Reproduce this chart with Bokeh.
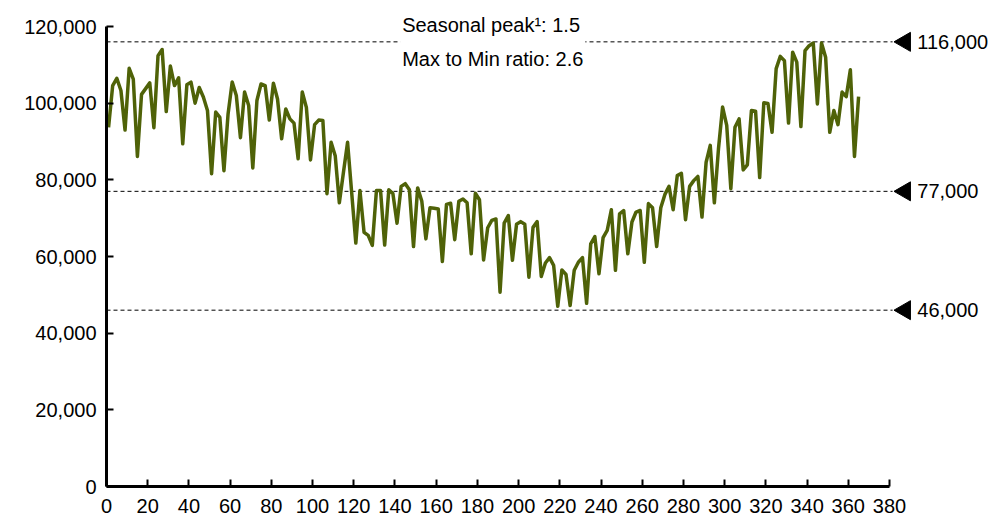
import math
from bokeh.plotting import figure
from bokeh.models import Range1d, SingleIntervalTicker, NumeralTickFormatter, Label, ColumnDataSource
from bokeh.embed import file_html
from bokeh.resources import INLINE

# ---- data ----
days = list(range(1, 366, 2))
traffic = [
    93700, 104600, 106500, 103300, 93000, 109100, 106300, 86100, 102300, 103800,
    105300, 93600, 112400, 114000, 97800, 109700, 104600, 106600, 89400, 104800,
    105500, 100000, 104100, 101600, 98100, 81600, 97700, 96300, 82400, 97200,
    105500, 102000, 91000, 102900, 99400, 83100, 100700, 105000, 104600, 95600,
    105200, 101100, 90700, 98500, 95900, 94800, 85500, 102900, 98900, 85200,
    94400, 95600, 95500, 76400, 89800, 86300, 74000, 82000, 89800, 76600,
    63500, 77200, 66300, 65500, 62900, 77200, 77200, 63000, 77400, 76400,
    68700, 78300, 79000, 77400, 62600, 77900, 74500, 64600, 72700, 72600,
    72400, 58700, 73600, 73900, 64400, 74400, 75000, 74000, 60700, 76500,
    74800, 59100, 67500, 69400, 69800, 50700, 68700, 70700, 59000, 68400,
    69100, 68400, 54600, 67600, 69100, 54800, 58300, 59700, 57700, 47000,
    56500, 55300, 47200, 56400, 58500, 59700, 47800, 63300, 65200, 55500,
    64900, 66800, 72200, 56400, 71100, 72000, 60700, 69000, 71600, 72000,
    58500, 73800, 72700, 62600, 72700, 76200, 78300, 72200, 81100, 81700,
    69600, 78300, 79800, 80900, 70300, 84600, 89000, 74000, 88100, 99000,
    94200, 77700, 93700, 95900, 82600, 83900, 98100, 97900, 80600, 100100,
    99900, 92400, 109000, 112200, 111100, 94800, 113300, 110700, 93900, 113700,
    115000, 115700, 99800, 115700, 112000, 92400, 98100, 94400, 102900, 101700,
    108700, 86100, 101700,
]
ref_levels = [116000, 77000, 46000]
ref_labels = ["116,000", "77,000", "46,000"]
note_text = "Seasonal peak\u00b9: 1.5\nMax to Min ratio: 2.6"

FONT = "Liberation Sans"
LINE_COLOR = "#4F6208"

p = figure(
    width=991, height=524,
    x_range=Range1d(0, 429.5), y_range=Range1d(0, 124700),
    output_backend="svg", toolbar_location=None,
    min_border_left=106, min_border_right=0, min_border_top=8, min_border_bottom=38,
)
p.outline_line_color = None
p.xgrid.visible = False
p.ygrid.visible = False
p.background_fill_color = "white"
p.border_fill_color = "white"

# axes
for ax in (p.xaxis[0], p.yaxis[0]):
    ax.axis_line_width = 3
    ax.axis_line_color = "black"
    ax.major_tick_in = 7
    ax.major_tick_out = 0
    ax.major_tick_line_width = 2
    ax.major_tick_line_color = "black"
    ax.minor_tick_line_color = None
    ax.major_label_text_font = FONT
    ax.major_label_text_font_size = "20px"
    ax.major_label_text_color = "black"

p.xaxis[0].major_label_standoff = 8
p.yaxis[0].major_label_standoff = 6
p.xaxis[0].ticker = SingleIntervalTicker(interval=20)
p.xaxis[0].bounds = (0, 380)
p.yaxis[0].ticker = SingleIntervalTicker(interval=20000)
p.yaxis[0].bounds = (0, 120000)
p.yaxis[0].formatter = NumeralTickFormatter(format="0,0")

# reference dashed lines
ref_src = ColumnDataSource(dict(
    y=ref_levels, x0=[0] * 3, x1=[381.5] * 3, xt=[387.5] * 3,
))
p.segment(x0="x0", x1="x1", y0="y", y1="y", source=ref_src,
          line_color="black", line_width=1, line_dash="4 3")

# series line
p.line(days, traffic, line_color=LINE_COLOR, line_width=3.5, line_join="round")

# markers and labels on the right
p.scatter(x="xt", y="y", source=ref_src, marker="triangle", angle=math.pi / 2,
          size=19, fill_color="black", line_color="black")
for lvl, lab in zip(ref_levels, ref_labels):
    p.add_layout(Label(x=393.5, y=lvl, text=lab, text_baseline="middle",
                       text_font=FONT, text_font_size="20px", text_color="black"))

# annotation box
note = Label(x=142.5, y=116000, text=note_text, text_font=FONT, text_font_size="20px",
             text_baseline="middle", text_align="left", text_color="black",
             text_line_height=1.55, background_fill_color="white", padding=2)
p.add_layout(note)

open("out.html", "w").write(file_html(p, INLINE))
